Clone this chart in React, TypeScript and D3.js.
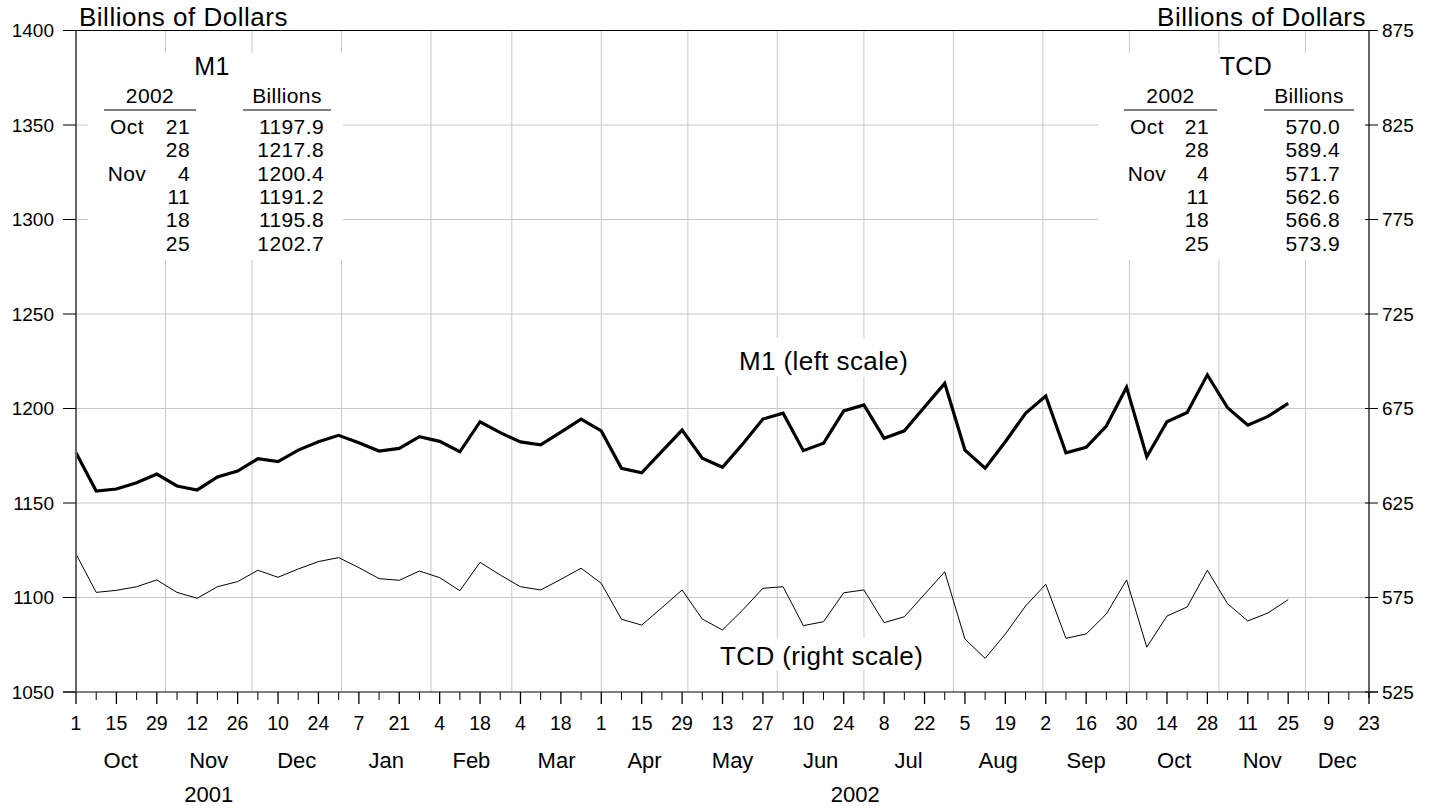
import React from "react";
import * as d3 from "d3";

// ---- Data ----
const startDate = new Date(Date.UTC(2001, 9, 1));
const m1Values = [
  1176.6, 1156.3, 1157.4, 1160.7, 1165.3, 1159.0, 1156.9, 1163.8, 1166.9, 1173.4,
  1171.9, 1178.0, 1182.4, 1185.8, 1181.9, 1177.5, 1178.9, 1185.1, 1182.6, 1177.1,
  1193.0, 1187.2, 1182.3, 1180.8, 1187.5, 1194.4, 1188.1, 1168.4, 1166.0, 1177.3,
  1188.6, 1173.7, 1168.9, 1181.2, 1194.4, 1197.5, 1177.7, 1181.6, 1198.7, 1201.9,
  1184.2, 1188.2, 1200.8, 1213.3, 1178.0, 1168.4, 1182.4, 1197.5, 1206.6, 1176.6,
  1179.5, 1190.7, 1211.2, 1174.5, 1193.0, 1197.9, 1217.8, 1200.4, 1191.2, 1195.8,
  1202.7,
];
const tcdValues = [
  598.0, 577.7, 578.8, 580.7, 584.3, 577.7, 574.6, 580.7, 583.4, 589.4,
  585.7, 590.1, 594.0, 596.1, 590.8, 585.0, 584.1, 589.0, 585.5, 578.6,
  593.6, 586.9, 580.7, 579.0, 584.6, 590.5, 582.5, 563.5, 560.4, 569.6,
  579.0, 563.6, 557.8, 568.4, 579.9, 580.7, 560.1, 562.2, 577.5, 579.0,
  561.7, 564.8, 576.7, 588.6, 553.0, 542.8, 555.7, 570.5, 582.0, 553.4,
  555.7, 566.3, 584.3, 548.7, 565.2, 570.0, 589.4, 571.7, 562.6, 566.8,
  573.9,
];
const leftTicks = [1050, 1100, 1150, 1200, 1250, 1300, 1350, 1400];
const rightTicks = [525, 575, 625, 675, 725, 775, 825, 875];
const tableMonths = ["Oct", "", "Nov", "", "", ""];
const tableDays = ["21", "28", "4", "11", "18", "25"];
const yearLabels = ["2001", "2002"];

// ---- Layout ----
const W = 1434;
const H = 808;
const X0 = 76;
const X1 = 1369;
const YT = 30.5;
const YB = 692;
const FONT = "'Liberation Sans', Arial, Helvetica, sans-serif";

export default function App() {
  const domainStart = startDate;
  const domainEnd = new Date(Date.UTC(2002, 11, 23));
  const x = d3.scaleUtc().domain([domainStart, domainEnd]).range([X0, X1]);
  const yL = d3.scaleLinear().domain([1050, 1400]).range([YB, YT]);
  const yR = d3.scaleLinear().domain([525, 875]).range([YB, YT]);

  const dates = m1Values.map((_, i) => d3.utcDay.offset(startDate, 7 * i));
  const m1Line = d3
    .line<number>()
    .x((_, i) => x(dates[i]))
    .y((v) => yL(v))(m1Values) as string;
  const tcdLine = d3
    .line<number>()
    .x((_, i) => x(dates[i]))
    .y((v) => yR(v))(tcdValues) as string;

  const weekTicks = d3.utcMonday.range(domainStart, d3.utcDay.offset(domainEnd, 1));
  const monthStarts = d3.utcMonth.range(domainStart, d3.utcDay.offset(domainEnd, 1));
  const gridMonths = monthStarts.filter((d) => +d > +domainStart);
  const fmtDay = d3.utcFormat("%-d");
  const fmtMon = d3.utcFormat("%b");

  const monthCenters = monthStarts.map((d) => {
    const next = d3.utcMonth.offset(d, 1);
    const e = +next > +domainEnd ? x(domainEnd) : x(next);
    return { label: fmtMon(d), cx: (x(d) + e) / 2 };
  });
  const yearCenters = [
    (x(domainStart) + x(new Date(Date.UTC(2002, 0, 1)))) / 2,
    (x(new Date(Date.UTC(2002, 0, 1))) + x(domainEnd)) / 2,
  ];

  const m1Last = m1Values.slice(-6).map((v) => v.toFixed(1));
  const tcdLast = tcdValues.slice(-6).map((v) => v.toFixed(1));

  const rowY = (i: number) => 134 + i * 23.3;

  const table = (
    key: string,
    title: string,
    titleX: number,
    monX: number,
    dayRight: number,
    valRight: number,
    vals: string[],
    line1: [number, number],
    line2: [number, number],
    bg: [number, number]
  ) => (
    <g key={key} fontFamily={FONT} fill="#000">
      <rect x={bg[0]} y={53} width={bg[1] - bg[0]} height={207} fill="#fff" />
      <text x={titleX} y={75} fontSize={25} letterSpacing={0.4} textAnchor="middle">
        {title}
      </text>
      <text x={(line1[0] + line1[1]) / 2} y={103} fontSize={21} letterSpacing={0.4} textAnchor="middle">
        2002
      </text>
      <text x={(line2[0] + line2[1]) / 2} y={103} fontSize={21} letterSpacing={0.4} textAnchor="middle">
        Billions
      </text>
      <line x1={line1[0]} x2={line1[1]} y1={110} y2={110} stroke="#000" strokeWidth={1} />
      <line x1={line2[0]} x2={line2[1]} y1={110} y2={110} stroke="#000" strokeWidth={1} />
      {tableDays.map((d, i) => (
        <g key={i}>
          {tableMonths[i] && (
            <text x={monX} y={rowY(i)} fontSize={21} letterSpacing={0.4} textAnchor="middle">
              {tableMonths[i]}
            </text>
          )}
          <text x={dayRight} y={rowY(i)} fontSize={21} letterSpacing={0.4} textAnchor="end">
            {d}
          </text>
          <text x={valRight} y={rowY(i)} fontSize={21} letterSpacing={0.4} textAnchor="end">
            {vals[i]}
          </text>
        </g>
      ))}
    </g>
  );

  return (
    <svg
      width={W}
      height={H}
      viewBox={`0 0 ${W} ${H}`}
      style={{ position: "absolute", left: 0, top: 0, background: "#fff" }}
    >
      <rect x={0} y={0} width={W} height={H} fill="#fff" />
      {/* gridlines */}
      <g stroke="#c8c8c8" strokeWidth={1}>
        {leftTicks
          .filter((t) => t !== 1050 && t !== 1400)
          .map((t) => (
            <line key={"h" + t} x1={X0} x2={X1} y1={yL(t)} y2={yL(t)} />
          ))}
        {gridMonths.map((d, i) => (
          <line key={"v" + i} x1={x(d)} x2={x(d)} y1={YT} y2={YB} />
        ))}
      </g>

      {/* tables with white backgrounds */}
      {table("m1", "M1", 212, 127, 190, 324, m1Last, [104, 196], [243, 331], [88, 343])}
      {table("tcd", "TCD", 1246, 1147, 1209, 1340, tcdLast, [1124, 1217], [1264, 1354], [1098, 1366])}

      {/* series labels */}
      <rect x={733} y={338} width={184} height={39} fill="#fff" />
      <text x={739} y={370} fontFamily={FONT} fontSize={26} letterSpacing={0.4}>
        M1 (left scale)
      </text>
      <rect x={714} y={638} width={220} height={32} fill="#fff" />
      <text x={720} y={665} fontFamily={FONT} fontSize={26} letterSpacing={0.4}>
        TCD (right scale)
      </text>

      {/* series */}
      <path d={tcdLine} fill="none" stroke="#000" strokeWidth={1} strokeLinejoin="miter" />
      <path d={m1Line} fill="none" stroke="#000" strokeWidth={3.2} strokeLinejoin="miter" />

      {/* frame */}
      <line x1={63} x2={1378} y1={YT} y2={YT} stroke="#000" strokeWidth={1} />
      <line x1={63} x2={1378} y1={YB} y2={YB} stroke="#000" strokeWidth={1.2} />
      <line x1={X0} x2={X0} y1={YT} y2={YB} stroke="#666" strokeWidth={2} />
      <line x1={X1} x2={X1} y1={YT} y2={YB + 6} stroke="#666" strokeWidth={2} />

      {/* left axis */}
      <g fontFamily={FONT} fontSize={19} fill="#000">
        {leftTicks.map((t) => (
          <g key={"l" + t}>
            <line x1={63} x2={X0} y1={yL(t)} y2={yL(t)} stroke="#000" strokeWidth={1} />
            <text x={54} y={yL(t) + 6.5} textAnchor="end">
              {t}
            </text>
          </g>
        ))}
        {rightTicks.map((t) => (
          <g key={"r" + t}>
            <line x1={X1 - 4} x2={1378} y1={yR(t)} y2={yR(t)} stroke="#000" strokeWidth={1} />
            <text x={1382} y={yR(t) + 6.5} textAnchor="start">
              {t}
            </text>
          </g>
        ))}
      </g>

      {/* bottom axis */}
      <g fontFamily={FONT} fill="#000">
        {weekTicks.map((d, i) => {
          const major = i % 2 === 0;
          return (
            <g key={"w" + i}>
              <line
                x1={x(d)}
                x2={x(d)}
                y1={YB}
                y2={YB + (major ? 12 : 8)}
                stroke="#000"
                strokeWidth={major ? 1.3 : 1}
              />
              {major && (
                <text x={x(d)} y={730} fontSize={19.5} textAnchor="middle">
                  {fmtDay(d)}
                </text>
              )}
            </g>
          );
        })}
        {monthCenters.map((m, i) => (
          <text key={"m" + i} x={m.cx} y={768} fontSize={22} textAnchor="middle">
            {m.label}
          </text>
        ))}
        {yearLabels.map((y, i) => (
          <text key={"y" + i} x={yearCenters[i]} y={802} fontSize={22} textAnchor="middle">
            {y}
          </text>
        ))}
      </g>

      {/* titles */}
      <text x={79} y={26} fontFamily={FONT} fontSize={26} letterSpacing={0.5}>
        Billions of Dollars
      </text>
      <text x={1366} y={26} fontFamily={FONT} fontSize={26} letterSpacing={0.5} textAnchor="end">
        Billions of Dollars
      </text>
    </svg>
  );
}
